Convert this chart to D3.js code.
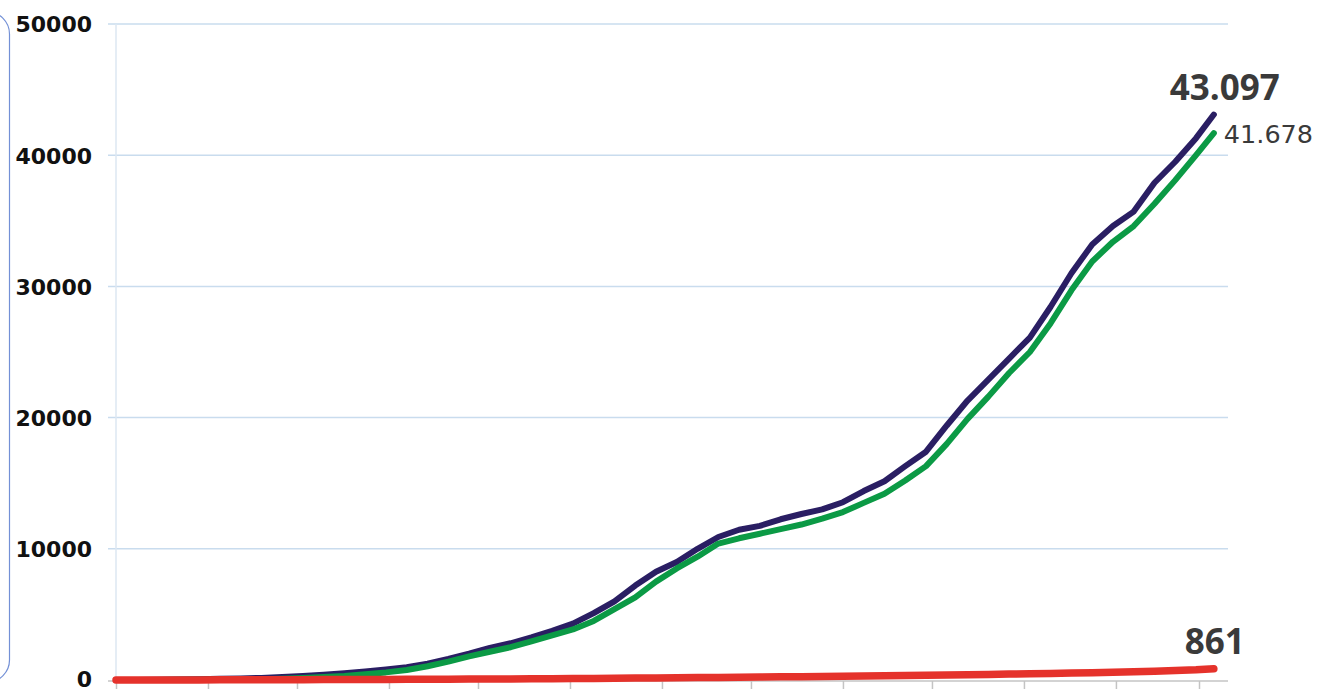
<!DOCTYPE html>
<meta charset="utf-8">
<style>
body { margin: 0; background: #fff; }
svg { display: block; }
.grid line { stroke: #c9dcee; stroke-width: 1.5px; }
.yaxis text { font-family: "DejaVu Sans", sans-serif; font-weight: bold; font-size: 22px; fill: #111; }
.xaxis line, .xaxis path { stroke: #c4c4c4; stroke-width: 1.5px; }
.line { fill: none; stroke-linecap: round; stroke-linejoin: round; }
.lbl { fill: #3a3a3a; }
</style>
<body>
<script src="https://cdn.jsdelivr.net/npm/d3@7/dist/d3.min.js"></script>
<script>
var width = 1323, height = 691;

// weekly readings
var dates = ["2020-03-01","2020-03-08","2020-03-15","2020-03-22","2020-03-29","2020-04-05","2020-04-12","2020-04-19","2020-04-26",
  "2020-05-03","2020-05-10","2020-05-17","2020-05-24","2020-05-31","2020-06-07","2020-06-14","2020-06-21","2020-06-28",
  "2020-07-05","2020-07-12","2020-07-19","2020-07-26","2020-08-02","2020-08-09","2020-08-16","2020-08-23","2020-08-30",
  "2020-09-06","2020-09-13","2020-09-20","2020-09-27","2020-10-04","2020-10-11","2020-10-18","2020-10-25","2020-11-01",
  "2020-11-08","2020-11-15","2020-11-22","2020-11-29","2020-12-06","2020-12-13","2020-12-20","2020-12-27","2021-01-03",
  "2021-01-10","2021-01-17","2021-01-24","2021-01-31","2021-02-07","2021-02-14","2021-02-21","2021-02-28","2021-03-06"];

var confirmed = [0,5,15,30,60,90,120,160,220,
  310,400,520,650,800,970,1250,1600,2000,
  2450,2800,3250,3750,4300,5100,6000,7200,8250,
  9000,10000,10900,11450,11750,12250,12650,13000,13550,
  14400,15150,16300,17400,19400,21300,22900,24500,26100,
  28450,31000,33200,34600,35700,37900,39500,41300,43097];

var recovered = [0,0,5,10,20,30,45,60,90,
  150,220,310,440,580,760,1050,1400,1800,
  2150,2500,2950,3400,3850,4500,5400,6300,7500,
  8500,9400,10400,10800,11150,11500,11850,12300,12800,
  13500,14200,15200,16300,18000,19900,21600,23400,25000,
  27200,29700,31900,33400,34600,36300,38100,40000,41678];

var deaths = [0,0,1,3,6,10,14,18,22,
  26,30,35,40,45,50,56,62,68,
  75,83,92,102,112,122,133,145,158,
  170,183,196,210,225,240,255,270,287,
  305,323,342,362,383,405,428,452,477,
  503,530,560,592,627,667,715,775,861];

var endLabels = ["43.097", "41.678", "861"];
var yTicks = [0, 10000, 20000, 30000, 40000, 50000];

var parse = d3.timeParse("%Y-%m-%d");
var days = dates.map(parse);

var svg = d3.select("body").append("svg")
    .attr("width", width)
    .attr("height", height);

var x = d3.scaleTime()
    .domain([parse("2020-03-01"), parse("2021-03-01")])
    .range([116, 1199]);

var y = d3.scaleLinear()
    .domain([0, 50000])
    .range([680, 24]);

// card edge on the left
svg.append("rect")
    .attr("x", -120).attr("y", 12)
    .attr("width", 129.5).attr("height", 670)
    .attr("rx", 22)
    .attr("fill", "none")
    .attr("stroke", "#7390d6")
    .attr("stroke-width", 1.2);

// grid
svg.append("g").attr("class", "grid")
  .selectAll("line")
  .data(yTicks.slice(1))
  .enter().append("line")
    .attr("x1", 108).attr("x2", 1228)
    .attr("y1", function(d) { return y(d); })
    .attr("y2", function(d) { return y(d); });

svg.append("line")
    .attr("x1", 116).attr("x2", 116)
    .attr("y1", 24).attr("y2", 680)
    .attr("stroke", "#dde7f2").attr("stroke-width", 1.5);

// x axis
var xAxis = svg.append("g").attr("class", "xaxis")
    .attr("transform", "translate(0,681)")
    .call(d3.axisBottom(x).ticks(d3.timeMonth.every(1)).tickSize(8).tickFormat(""));
xAxis.select(".domain").attr("d", "M108,0H1228");

// y axis labels
var yAxis = svg.append("g").attr("class", "yaxis")
    .attr("transform", "translate(92,0)")
    .call(d3.axisLeft(y).tickValues(yTicks).tickSize(0).tickPadding(0).tickFormat(d3.format("d")));
yAxis.select(".domain").remove();
yAxis.selectAll("text").attr("dy", function(d) { return d === 0 ? "0.28em" : "0.36em"; });

var line = function(vals) {
  return d3.line()
    .x(function(d, i) { return x(days[i]); })
    .y(function(d) { return y(d); })(vals);
};

svg.append("path").attr("class", "line")
    .attr("d", line(confirmed))
    .attr("stroke", "#2a1e63").attr("stroke-width", 6);

svg.append("path").attr("class", "line")
    .attr("d", line(recovered))
    .attr("stroke", "#0b9a45").attr("stroke-width", 6);

svg.append("path").attr("class", "line")
    .attr("d", line(deaths))
    .attr("stroke", "#e5322b").attr("stroke-width", 7.5);

// end labels
var last = days[days.length - 1];
svg.append("text").attr("class", "lbl")
    .attr("x", x(last) + 11).attr("y", 100)
    .attr("text-anchor", "middle")
    .style("font-family", "'Open Sans', sans-serif").style("font-weight", "bold").style("font-size", "35px")
    .text(endLabels[0]);

svg.append("text").attr("class", "lbl")
    .attr("x", x(last) + 10).attr("y", 143)
    .style("font-family", "'DejaVu Sans', sans-serif").style("font-size", "25.5px")
    .text(endLabels[1]);

svg.append("text").attr("class", "lbl")
    .attr("x", x(last) + 1).attr("y", 654)
    .attr("text-anchor", "middle")
    .style("font-family", "'Open Sans', sans-serif").style("font-weight", "bold").style("font-size", "35px")
    .text(endLabels[2]);
</script>
</body>
